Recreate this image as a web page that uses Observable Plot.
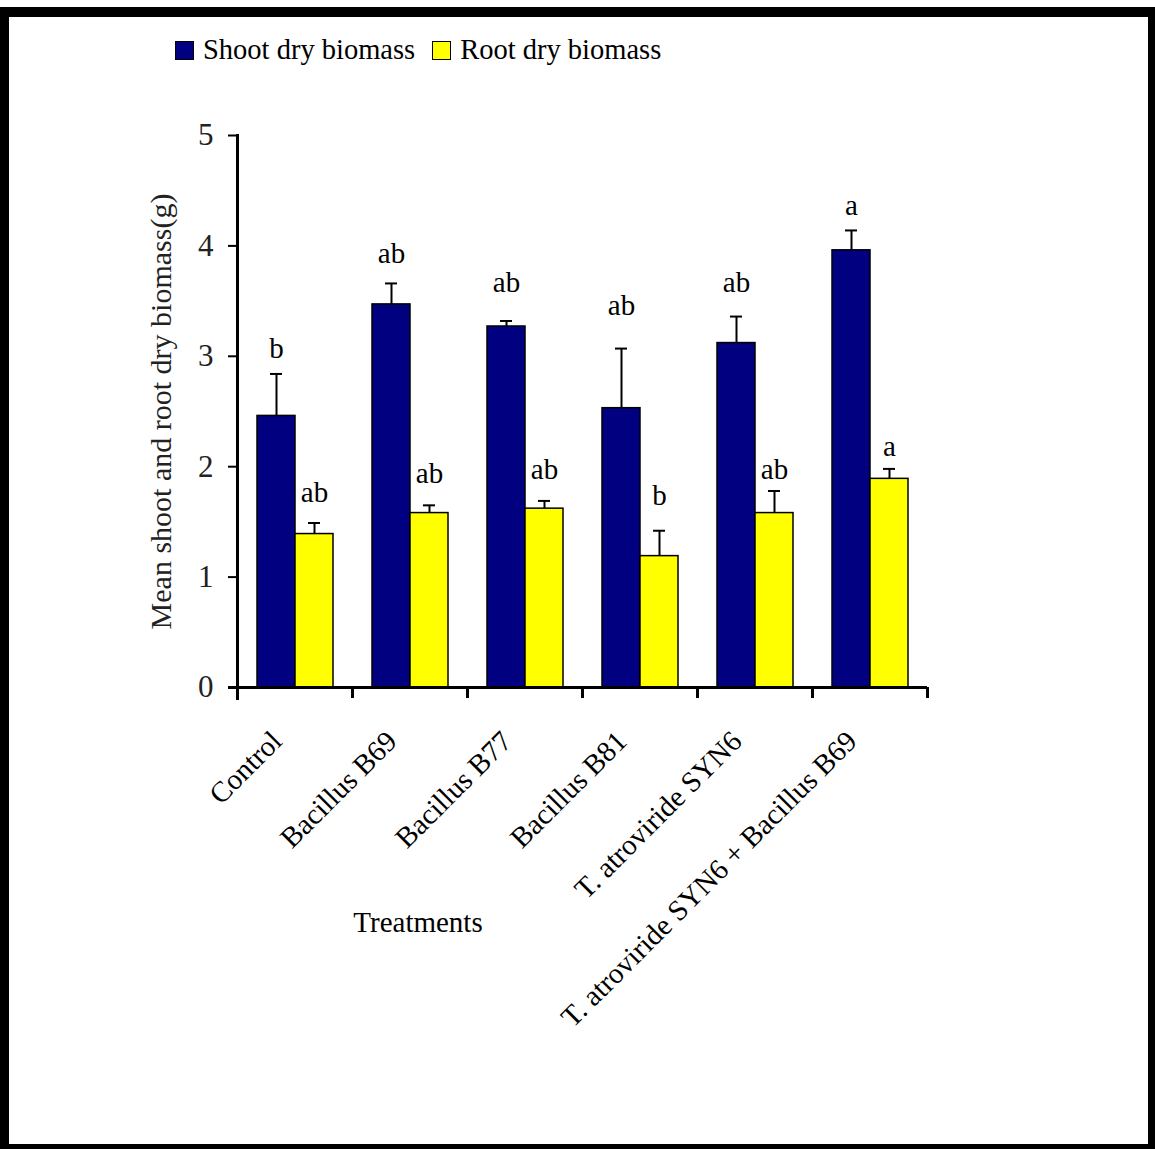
<!DOCTYPE html>
<html><head><meta charset="utf-8">
<script src="https://cdn.jsdelivr.net/npm/d3@7"></script>
<script src="https://cdn.jsdelivr.net/npm/@observablehq/plot@0.6"></script>
<style>
body{margin:0;background:#fff;}
#page{position:relative;width:1155px;height:1149px;background:#fff;overflow:hidden;font-family:"Liberation Serif","Times New Roman",serif;color:#000;}
#frame{position:absolute;left:0;top:7px;width:1155px;height:1142px;box-sizing:border-box;border-top:10px solid #000;border-left:9px solid #000;border-right:7px solid #000;border-bottom:5px solid #000;}
#legend{position:absolute;left:175px;top:34px;font-size:28.5px;line-height:32px;display:flex;align-items:center;white-space:nowrap;}
.item{display:flex;align-items:center;}
.sw{display:inline-block;width:19px;height:19px;border:1px solid #000;box-sizing:border-box;margin-right:9px;}
#chart{position:absolute;left:0;top:100px;}
#xlabel{position:absolute;left:418px;top:922px;transform:translate(-50%,-50%);font-size:29px;white-space:nowrap;}
</style></head>
<body>
<div id="page">
  <div id="frame"></div>
  <div id="legend"></div>
  <div id="chart"></div>
  <div id="xlabel">Treatments</div>
</div>
<script>
const treatments = ["Control","Bacillus B69","Bacillus B77","Bacillus B81","T. atroviride SYN6","T. atroviride SYN6 + Bacillus B69"];
const seriesNames = ["Shoot dry biomass","Root dry biomass"];
const seriesColors = ["#000080","#ffff00"];
const shootMeans = [2.46,3.47,3.27,2.53,3.12,3.96];
const shootErr = [0.38,0.19,0.05,0.54,0.24,0.18];
const rootMeans = [1.39,1.58,1.62,1.19,1.58,1.89];
const rootErr = [0.10,0.07,0.07,0.23,0.20,0.09];
const shootLetters = ["b","ab","ab","ab","ab","a"];
const rootLetters = ["ab","ab","ab","b","ab","a"];
// heights (in g) at which the significance letters sit
const shootLetterAt = [3.07,3.93,3.67,3.46,3.67,4.36];
const rootLetterAt = [1.76,1.94,1.97,1.74,1.97,2.18];
const yTicks = [0,1,2,3,4,5];
const yLabel = "Mean shoot and root dry biomass(g)";
const xLabel = "Treatments";

const rows = treatments.flatMap((t,i)=>[
  {treatment:t, series:seriesNames[0], value:shootMeans[i], err:shootErr[i], letter:shootLetters[i], letterAt:shootLetterAt[i]},
  {treatment:t, series:seriesNames[1], value:rootMeans[i], err:rootErr[i], letter:rootLetters[i], letterAt:rootLetterAt[i]}
]);

const chart = Plot.plot({
  width:1155, height:1000,
  marginLeft:237, marginRight:228, marginTop:35, marginBottom:413,
  style:{fontFamily:"'Liberation Serif','Times New Roman',serif", background:"transparent", color:"#000", overflow:"visible"},
  fx:{domain:treatments, padding:0},
  x:{domain:seriesNames, paddingInner:0, paddingOuter:0.5, axis:null},
  y:{domain:[0,5]},
  color:{domain:seriesNames, range:seriesColors},
  marks:[
    Plot.barY(rows,{fx:"treatment", x:"series", y:"value", fill:"series", stroke:"#000", strokeWidth:1.5}),
    Plot.ruleX(rows,{fx:"treatment", x:"series", y1:"value", y2:d=>d.value+d.err, stroke:"#000", strokeWidth:2}),
    Plot.tickY(rows,{fx:"treatment", x:"series", y:d=>d.value+d.err, stroke:"#000", strokeWidth:2, inset:13}),
    Plot.text(rows,{fx:"treatment", x:"series", y:"letterAt", text:"letter", fontSize:29, fill:"#000"}),
    Plot.ruleY([0],{stroke:"#000", strokeWidth:3, insetLeft:-9}),
    Plot.frame({anchor:"left", facetAnchor:"left", stroke:"#000", strokeWidth:3, insetBottom:-11}),
    Plot.axisY({ticks:yTicks, tickFormat:d=>String(d), tickSize:9, tickPadding:15, fontSize:31, strokeWidth:2, fill:"#222", stroke:"#000",
      label:yLabel, labelAnchor:"center", labelOffset:88, labelArrow:"none"}),
    Plot.axisFx({anchor:"bottom", tickSize:11, fill:"none", stroke:"#000", strokeWidth:3, dx:-57.5, label:null}),
    Plot.axisFx({anchor:"bottom", ticks:[treatments[treatments.length-1]], tickSize:11, fill:"none", stroke:"#000", strokeWidth:3, dx:57.5, label:null}),
    Plot.axisFx({anchor:"bottom", tickSize:0, tickRotate:-45, textAnchor:"end", tickPadding:49, dx:-18, fontSize:29, fill:"#000", label:null})
  ]
});
// slightly larger y-axis title
chart.querySelectorAll("[aria-label='y-axis label'] text").forEach(t=>t.setAttribute("font-size","30"));
document.getElementById("chart").appendChild(chart);

const color = chart.scale("color");
const legend = document.getElementById("legend");
seriesNames.forEach((s,i)=>{
  const item = document.createElement("div");
  item.className = "item";
  if (i>0) item.style.marginLeft = "17px";
  const sw = document.createElement("span");
  sw.className = "sw";
  sw.style.background = color.apply(s);
  const tx = document.createElement("span");
  tx.textContent = s;
  item.appendChild(sw); item.appendChild(tx);
  legend.appendChild(item);
});
document.getElementById("xlabel").textContent = xLabel;
</script>
</body></html>
